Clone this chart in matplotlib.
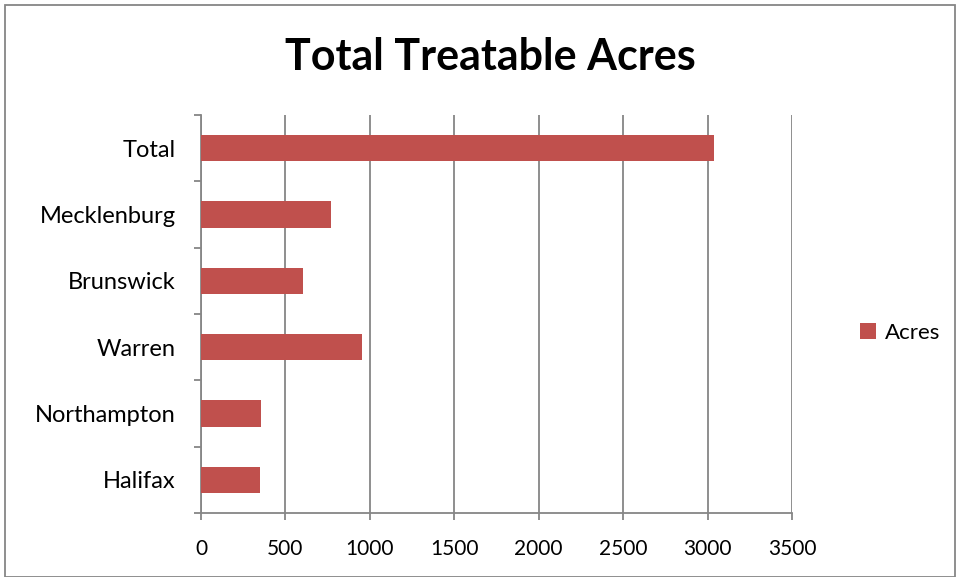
import numpy as np
import matplotlib
matplotlib.use('Agg')
import matplotlib.pyplot as plt
from matplotlib.patches import Rectangle

# counties listed bottom to top so "Total" ends up on top
counties = ['Halifax', 'Northampton', 'Warren', 'Brunswick', 'Mecklenburg', 'Total']
acres = [352, 356, 956, 607, 772, 3036]
x_ticks = [0, 500, 1000, 1500, 2000, 2500, 3000, 3500]

bar_color = '#C0504D'
line_color = '#868686'

plt.rcParams['font.family'] = ['Lato', 'DejaVu Sans']

fig = plt.figure(figsize=(9.58, 5.77), dpi=100)
ax = fig.add_axes([0.2098, 0.1109, 0.6169, 0.6898])

y = np.arange(len(counties))
ax.barh(y, acres, height=0.4, color=bar_color, label='Acres', zorder=3)

ax.set_xlim(0, 3500)
ax.set_ylim(-0.5, len(counties) - 0.5)
ax.set_xticks(x_ticks)
ax.set_xticklabels([str(t) for t in x_ticks], fontsize=15)
ax.set_yticks(y)
ax.set_yticklabels(counties, fontsize=17)
ax.set_yticks(np.arange(len(counties) + 1) - 0.5, minor=True)

ax.grid(axis='x', color=line_color, linewidth=1.3, zorder=0)
ax.tick_params(axis='y', which='major', length=0, pad=18)
ax.tick_params(axis='y', which='minor', length=5, width=1.3, color=line_color)
ax.tick_params(axis='x', length=5, width=1.3, color=line_color, pad=14)

for side in ['top', 'right']:
    ax.spines[side].set_visible(False)
for side in ['left', 'bottom']:
    ax.spines[side].set_color(line_color)
    ax.spines[side].set_linewidth(1.3)

fig.text(0.512, 0.902, 'Total Treatable Acres', ha='center', va='center',
         fontsize=31, fontweight='bold')

fig.legend(loc='center left', bbox_to_anchor=(0.898, 0.423), frameon=False,
           fontsize=16, handlelength=0.7, handleheight=0.7, handletextpad=0.4,
           borderaxespad=0, borderpad=0)

# chart frame
fig.add_artist(Rectangle((5 / 958, 0), 950 / 958, 572 / 577, transform=fig.transFigure,
                         fill=False, edgecolor=line_color, linewidth=1.3))

fig.savefig('out.png', dpi=100, facecolor='white')
